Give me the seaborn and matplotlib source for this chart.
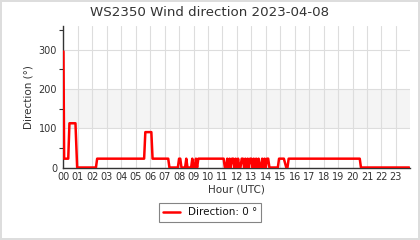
import matplotlib
matplotlib.use("Agg")
import matplotlib.pyplot as plt
import seaborn as sns
import pandas as pd
import numpy as np

# ---- data, change points of the 5-minute series ----
times = ["00:00", "00:03", "00:20", "00:25", "00:50", "00:57", "02:15", "02:20",
         "05:35", "05:40", "06:05", "06:10", "07:15", "07:20",
         "07:55", "08:00", "08:05", "08:10", "08:25", "08:30", "08:35",
         "08:50", "08:55", "09:00", "09:05", "09:10", "09:15", "09:20",
         "11:05", "11:10", "11:15", "11:20", "11:25", "11:30", "11:35", "11:40",
         "11:45", "11:50", "11:55", "12:00", "12:05", "12:10", "12:15", "12:20",
         "12:25", "12:30", "12:35", "12:40", "12:45", "12:50", "12:55", "13:00",
         "13:05", "13:10", "13:15", "13:20", "13:25", "13:30", "13:35", "13:40",
         "13:45", "13:50", "13:55", "14:00", "14:05", "14:10", "14:15",
         "14:50", "14:55", "15:15", "15:25", "15:30", "15:35",
         "20:30", "20:35", "23:55"]
direction = [295, 22.5, 22.5, 112.5, 112.5, 0, 0, 22.5,
             22.5, 90, 90, 22.5, 22.5, 0,
             0, 22.5, 22.5, 0, 0, 22.5, 0,
             0, 22.5, 0, 0, 22.5, 0, 22.5,
             22.5, 0, 0, 22.5, 0, 22.5, 0, 22.5,
             22.5, 0, 22.5, 0, 22.5, 0, 0, 22.5,
             22.5, 0, 22.5, 0, 22.5, 0, 22.5, 22.5,
             0, 22.5, 0, 22.5, 0, 22.5, 0, 0,
             22.5, 0, 22.5, 0, 22.5, 22.5, 0,
             0, 22.5, 22.5, 0, 0, 22.5,
             22.5, 0, 0]
hour_labels = [f"{h:02d}" for h in range(24)]
title = "WS2350 Wind direction 2023-04-08"

hours = [int(t[:2]) + int(t[3:]) / 60 for t in times]
df = pd.DataFrame({"hour": hours, "direction": direction})

sns.set_theme(style="white")
plt.rcParams["font.family"] = ["DejaVu Sans"]

fig = plt.figure(figsize=(4.2, 2.4), dpi=100)
fig.patch.set_facecolor("white")
fig.patch.set_edgecolor("#dddddd")
fig.patch.set_linewidth(1.5)
ax = fig.add_axes([0.151, 0.302, 0.826, 0.590])

ax.axhspan(100, 200, color="#f4f4f4", zorder=0, lw=0)
sns.lineplot(data=df, x="hour", y="direction", ax=ax, color="#ff0000",
             linewidth=1.8, label=f"Direction: {direction[-1]} °", legend=False,
             zorder=3)

ax.set_xlim(0, 24)
ax.set_ylim(0, 360)
ax.set_xticks(range(24))
ax.set_xticklabels(hour_labels)
ax.set_yticks([0, 100, 200, 300])
ax.set_yticks([50, 150, 250, 350], minor=True)
ax.grid(True, which="major", color="#dddddd", linewidth=0.8, zorder=1)
ax.set_axisbelow(True)
for s in ["top", "right"]:
    ax.spines[s].set_visible(False)
for s in ["left", "bottom"]:
    ax.spines[s].set_color("#333333")
    ax.spines[s].set_linewidth(1.0)
ax.tick_params(axis="both", which="major", labelsize=7, colors="#333333",
               length=3, width=0.8, pad=1.5)
ax.tick_params(axis="y", which="minor", left=True, length=3, width=0.8,
               color="#333333")
ax.tick_params(axis="x", length=0, pad=3)
ax.set_xlabel("Hour (UTC)", fontsize=7.5, color="#333333", labelpad=2)
ax.set_ylabel("Direction (°)", fontsize=7.5, color="#333333", labelpad=4)

fig.suptitle(title, x=0.5, y=0.95, va="center", fontsize=9.6, color="#333333")

handles, labels = ax.get_legend_handles_labels()
leg = fig.legend(handles, labels, loc="center", bbox_to_anchor=(0.5, 0.115),
                 fontsize=7.5, frameon=True, fancybox=False, edgecolor="#666666",
                 handlelength=1.6, borderpad=0.4)
leg.get_frame().set_linewidth(0.8)
for t in leg.get_texts():
    t.set_color("#111111")

fig.savefig("out.png", dpi=100, facecolor=fig.get_facecolor(),
            edgecolor=fig.get_edgecolor())
